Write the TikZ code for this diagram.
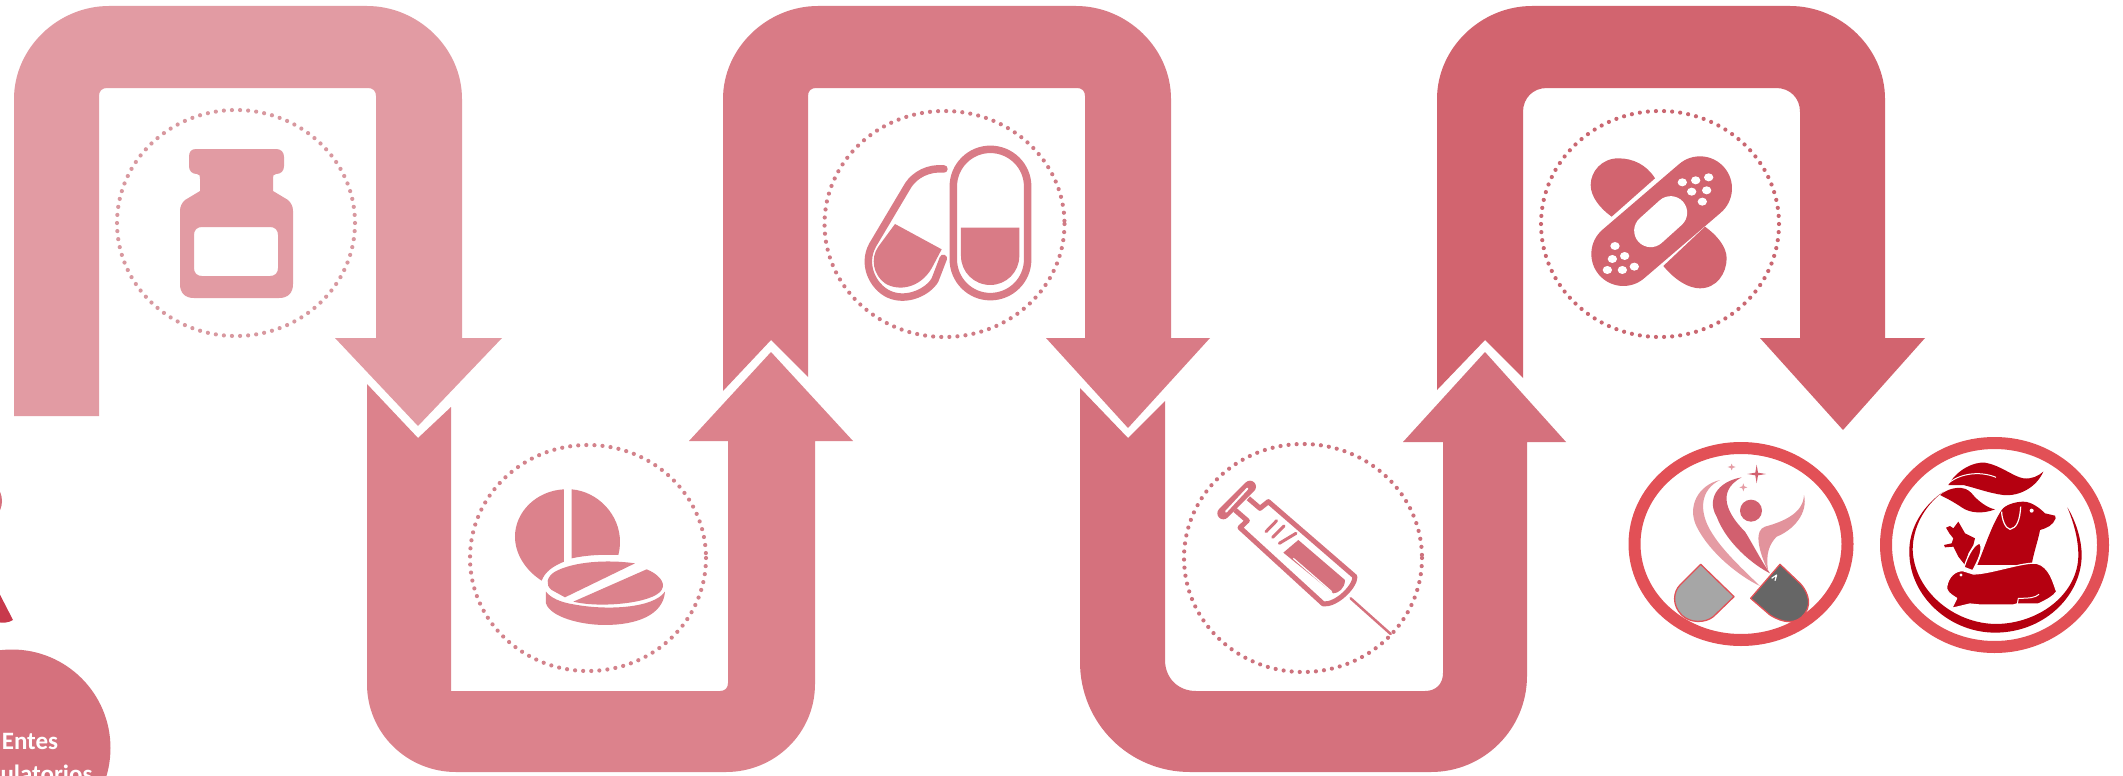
\documentclass[tikz,border=0pt]{standalone}
\usepackage{fontspec}
\setmainfont{Carlito}
\usepackage{tikz}
\definecolor{bandA}{HTML}{E29BA3}
\definecolor{bandB}{HTML}{DC828C}
\definecolor{bandC}{HTML}{D97B86}
\definecolor{bandD}{HTML}{D5717D}
\definecolor{bandE}{HTML}{D2646F}
\definecolor{ringred}{HTML}{E25056}
\definecolor{petred}{HTML}{B50010}
\definecolor{swooshlight}{HTML}{E59CA4}
\definecolor{swooshmid}{HTML}{D2606F}
\definecolor{wedgered}{HTML}{C8394C}
\tikzset{
  every picture/.style={line join=round},
  dotring/.style={line width=4.2pt,line cap=round,dash pattern=on 0pt off 8.1pt},
  icon/.style 2 args={shift={(#1,#2)},x=0.3333pt,y=-0.3333pt},
  capsulehalf/.style={draw=ringred,line width=1.3pt},
  entes label/.style={text=white,font=\bfseries\fontsize{25}{33}\selectfont,align=center},
}
\begin{document}
\begin{tikzpicture}[x=1pt,y=-1pt]
\useasboundingbox (0,0) rectangle (2123,776);
\clip (0,0) rectangle (2123,776);
\fill[white] (0,0) rectangle (2123,776);
\fill[bandA](14,416)--(14,99).. controls (14,48) and (58,6) .. (109,6)--(367,6).. controls (418,6) and (462,48) .. (462,99)--(462,338)--(502,338)--(418,426)--(335,338)--(376,338)--(376,96).. controls (376,91) and (373,88) .. (368,88)--(107,88).. controls (102,88) and (99,91) .. (99,96)--(99,416)--cycle;
\fill[bandB](367,384)--(418,438)--(451,407)--(451,691)--(720,691).. controls (725,691) and (728,688) .. (728,683)--(728,441)--(689,441)--(771,352)--(853,441)--(815,441)--(815,684).. controls (815,733) and (775,772) .. (726,772)--(456,772).. controls (407,772) and (367,733) .. (367,684)--cycle;
\fill[bandC](723,391)--(771,340)--(808,377)--(808,96).. controls (808,91) and (811,88) .. (816,88)--(1077,88).. controls (1082,88) and (1085,91) .. (1085,96)--(1085,338)--(1046,338)--(1128,428)--(1210,338)--(1171,338)--(1171,99).. controls (1171,48) and (1127,6) .. (1076,6)--(818,6).. controls (767,6) and (723,48) .. (723,99)--cycle;
\fill[bandD](1080,388)--(1128,438)--(1165,401)--(1165,660).. controls (1165,678) and (1178,691) .. (1196,691)--(1425,691).. controls (1436,691) and (1443,684) .. (1443,673)--(1443,442)--(1403,442)--(1485,352)--(1566,442)--(1527,442)--(1527,676).. controls (1527,729) and (1484,772) .. (1431,772)--(1190,772).. controls (1129,772) and (1080,723) .. (1080,662)--cycle;
\fill[bandE](1437,390)--(1485,340)--(1523,378)--(1523,112).. controls (1523,98) and (1533,88) .. (1547,88)--(1776,88).. controls (1790,88) and (1800,98) .. (1800,112)--(1800,338)--(1760,338)--(1843,430)--(1925,338)--(1885,338)--(1885,99).. controls (1885,48) and (1841,6) .. (1790,6)--(1532,6).. controls (1481,6) and (1437,48) .. (1437,99)--cycle;
\draw[dotring,bandA!90!gray](236,223) ellipse [x radius=119,y radius=113];
\draw[dotring,bandB!90!gray](588,558) ellipse [x radius=118,y radius=113];
\draw[dotring,bandC!90!gray](944.5,224) ellipse [x radius=120,y radius=113];
\draw[dotring,bandD!90!gray](1303,558) ellipse [x radius=119,y radius=114];
\draw[dotring,bandE!90!gray](1660,224) ellipse [x radius=119,y radius=113];
\fill[bandA,even odd rule](196,149) -- (276,149) .. controls (281,149) and (284,152) .. (284,157) -- (284,166) .. controls (284,171) and (281,174) .. (276,174) .. controls (273,174) and (273,176) .. (273,179) -- (273,191) -- (288,200) .. controls (291,203) and (293,206) .. (293,211) -- (293,284) .. controls (293,293) and (288,298) .. (279,298) -- (194,298) .. controls (185,298) and (180,293) .. (180,284) -- (180,211) .. controls (180,206) and (182,203) .. (185,200) -- (200,191) -- (200,179) .. controls (200,176) and (200,174) .. (197,174) .. controls (192,174) and (189,171) .. (189,166) -- (189,157) .. controls (189,152) and (191,149) .. (196,149) -- cycle
(202,227) -- (270,227) .. controls (275,227) and (278,230) .. (278,235) -- (278,268) .. controls (278,273) and (275,276) .. (270,276) -- (202,276) .. controls (197,276) and (194,273) .. (194,268) -- (194,235) .. controls (194,230) and (197,227) .. (202,227) -- cycle;
\begin{scope}[icon={440}{420}]
\fill[bandB](372,208).. controls (290,212) and (225,275) .. (225,350).. controls (225,400) and (255,450) .. (305,482).. controls (315,455) and (340,438) .. (372,425)--cycle;
\fill[bandB](395,208).. controls (475,215) and (540,285) .. (540,365).. controls (540,380) and (538,395) .. (535,405).. controls (490,403) and (440,405) .. (395,415)--cycle;
\fill[bandB](375,532)--(585,430).. controls (500,418) and (400,425) .. (345,455).. controls (320,470) and (315,495) .. (335,510)--cycle;
\fill[bandB](620,448)--(400,545).. controls (480,565) and (640,550) .. (665,510).. controls (680,485) and (650,460) .. (620,448)--cycle;
\fill[bandB](318,515)--(318,550).. controls (330,590) and (420,615) .. (495,615).. controls (590,615) and (670,585) .. (675,515).. controls (640,565) and (500,572) .. (400,553).. controls (360,547) and (330,532) .. (318,515)--cycle;
\end{scope}
\begin{scope}[icon={800}{110}]
\draw[bandC,line width=7.5pt](460,229).. controls (460,168) and (510,118) .. (571,118).. controls (633,118) and (683,168) .. (683,229)--(683,449).. controls (683,510) and (633,560) .. (571,560).. controls (510,560) and (460,510) .. (460,449)--cycle;
\fill[bandC](483,353)--(658,353)--(658,438).. controls (658,486) and (619,525) .. (571,525).. controls (522,525) and (483,486) .. (483,438)--cycle;
\draw[bandC,line width=7.5pt,line cap=round](432,177).. controls (385,172) and (345,195) .. (325,225)--(218,405).. controls (185,465) and (220,530) .. (265,552).. controls (320,578) and (385,545) .. (405,510)--(430,445);
\fill[bandC](285,342)--(425,418)--(395,475).. controls (360,535) and (295,545) .. (255,520).. controls (220,495) and (210,445) .. (235,410)--cycle;
\end{scope}
\begin{scope}[icon={1160}{430}]
\draw[bandD,line width=12pt,line cap=round](190,250)--(270,170);
\draw[white,line width=2pt,line cap=round](198,245)--(262,176);
\draw[bandD,line width=5pt](265,205)--(300,235)--(325,215)--(585,440).. controls (585,470) and (530,525) .. (490,522)--(240,293)--(262,272)--(225,240);
\draw[bandD,line width=3pt,line cap=round](318,305)--(350,272)(338,322)--(372,288)(358,340)--(408,310);
\fill[bandD](415,330)--(555,450).. controls (555,475) and (535,490) .. (520,490)--(370,368)--cycle;
\draw[white,line width=1.2pt](400,385)--(515,485);
\draw[bandD,line width=2.5pt,line cap=round](572,505)--(692,612);
\end{scope}
\begin{scope}[icon={1520}{110}]
\fill[bandE](275,320)--(405,205).. controls (380,165) and (340,145) .. (295,145).. controls (245,145) and (212,185) .. (212,225).. controls (212,260) and (240,295) .. (275,320)--cycle;
\fill[bandE](555,350)--(430,468).. controls (465,510) and (505,535) .. (540,535).. controls (590,535) and (620,490) .. (620,445).. controls (620,410) and (590,375) .. (555,350)--cycle;
\draw[bandE,line width=64pt,line cap=round](310,432)--(540,235);
\draw[white,line width=33pt,line cap=round](392,362)--(452,308);
\foreach \x/\y in {487/217,527/211,566/202,515/245,560/241,547/275,285/408,277/447,314/438,262/480,307/480,343/470}
  \fill[white](\x,\y) ellipse [x radius=14,y radius=12];
\end{scope}
\fill[bandD](12,748) circle [radius=98.5];
\node[entes label] (entes) at (30,760.5) {Entes\\regulatorios};
\fill[bandD](-20,501) circle [radius=22];
\fill[wedgered](-5,585)--(13,620).. controls (8,623) and (4,623) .. (-5,622)--cycle;
\draw[ringred,line width=12pt](1741,544) ellipse [x radius=106.5,y radius=96];
\draw[ringred,line width=12pt](1994.5,545) ellipse [x radius=108.5,y radius=102];
\begin{scope}[icon={1640}{450}]
\fill[swooshlight](240,90).. controls (175,105) and (140,170) .. (170,230).. controls (210,310) and (300,380) .. (360,408).. controls (300,350) and (235,290) .. (205,230).. controls (180,180) and (180,120) .. (240,90)--cycle;
\fill[swooshmid](305,82).. controls (230,95) and (200,150) .. (230,200).. controls (260,280) and (340,345) .. (390,370).. controls (365,335) and (340,285) .. (315,245).. controls (265,195) and (225,125) .. (305,82)--cycle;
\fill[swooshlight!85!swooshmid](492,135).. controls (490,190) and (430,215) .. (375,230).. controls (345,240) and (350,290) .. (385,365).. controls (375,310) and (390,280) .. (410,260).. controls (460,240) and (505,190) .. (492,135)--cycle;
\fill[swooshmid](333,182) circle [radius=33];
\fill[swooshmid](350,44)--(354,68)--(378,72)--(354,76)--(350,100)--(346,76)--(322,72)--(346,68)--cycle;
\fill[swooshlight](275,41)--(278,48)--(287,51)--(278,54)--(275,61)--(272,54)--(263,51)--(272,48)--cycle;
\fill[swooshlight](310,100)--(313,109)--(322,112)--(313,115)--(310,124)--(307,115)--(298,112)--(307,109)--cycle;
\filldraw[capsulehalf,fill=gray!70](182,343)--(282,440)--(220,500).. controls (195,520) and (150,520) .. (125,495).. controls (95,465) and (100,425) .. (120,405)--cycle;
\filldraw[capsulehalf,fill=black!60](420,343)--(332,445)--(390,495).. controls (430,520) and (470,525) .. (495,490).. controls (520,455) and (495,415) .. (480,400)--cycle;
\draw[white,line width=1.2pt](395,385)--(410,375)--(405,392);
\end{scope}
\begin{scope}[icon={1890}{450}]
\fill[petred](160,125).. controls (95,170) and (55,240) .. (58,310).. controls (60,440) and (180,550) .. (320,548).. controls (470,545) and (578,430) .. (575,310).. controls (573,260) and (555,210) .. (532,172).. controls (550,215) and (565,265) .. (565,315).. controls (565,430) and (450,520) .. (320,522).. controls (190,522) and (72,420) .. (68,300).. controls (68,235) and (100,170) .. (160,125)--cycle;
\fill[petred](175,105).. controls (200,60) and (250,35) .. (285,38).. controls (330,45) and (370,80) .. (400,85).. controls (425,88) and (445,78) .. (460,65).. controls (440,110) and (390,140) .. (340,135).. controls (300,130) and (260,115) .. (220,105)--cycle;
\fill[petred](150,135).. controls (180,110) and (225,105) .. (245,130).. controls (265,155) and (295,175) .. (315,178).. controls (280,192) and (240,190) .. (215,172).. controls (190,155) and (170,145) .. (150,135)--cycle;
\draw[white,line width=1pt](175,100).. controls (210,70) and (270,62) .. (318,82);
\fill[petred](262,345).. controls (285,290) and (305,225) .. (335,180).. controls (345,165) and (375,155) .. (400,155).. controls (425,155) and (450,175) .. (465,190)--(495,197)--(497,205).. controls (490,225) and (470,235) .. (450,240).. controls (445,270) and (430,310) .. (425,345)--cycle;
\draw[white,line width=1.2pt](335,185).. controls (335,205) and (345,235) .. (360,238).. controls (380,235) and (390,210) .. (392,170);
\fill[white](425,182) circle [radius=6];
\fill[petred](168,233)--(180,228)--(190,235)--(205,215)--(225,250)--(255,265)--(250,285)--(235,310)--(225,345)--(205,320)--(190,290)--(165,292)--(162,285)--(185,280)--(190,265)--(178,250)--cycle;
\filldraw[petred,draw=white,line width=1.2pt](222,352).. controls (235,310) and (255,280) .. (270,280).. controls (280,300) and (265,330) .. (248,362)--cycle;
\filldraw[petred,draw=white,line width=1.2pt](170,410).. controls (175,380) and (195,362) .. (218,362)--(250,372).. controls (300,372) and (400,335) .. (440,340).. controls (480,350) and (490,400) .. (500,425).. controls (490,440) and (470,450) .. (445,462)--(380,462)--(370,465)--(270,465)--(240,462)--(185,475)--(200,445).. controls (175,430) and (168,420) .. (170,410)--cycle;
\draw[white,line width=1pt](382,462)--(385,445).. controls (420,445) and (435,443) .. (447,433);
\fill[white](213,375) circle [radius=5];
\end{scope}
\end{tikzpicture}
\end{document}
